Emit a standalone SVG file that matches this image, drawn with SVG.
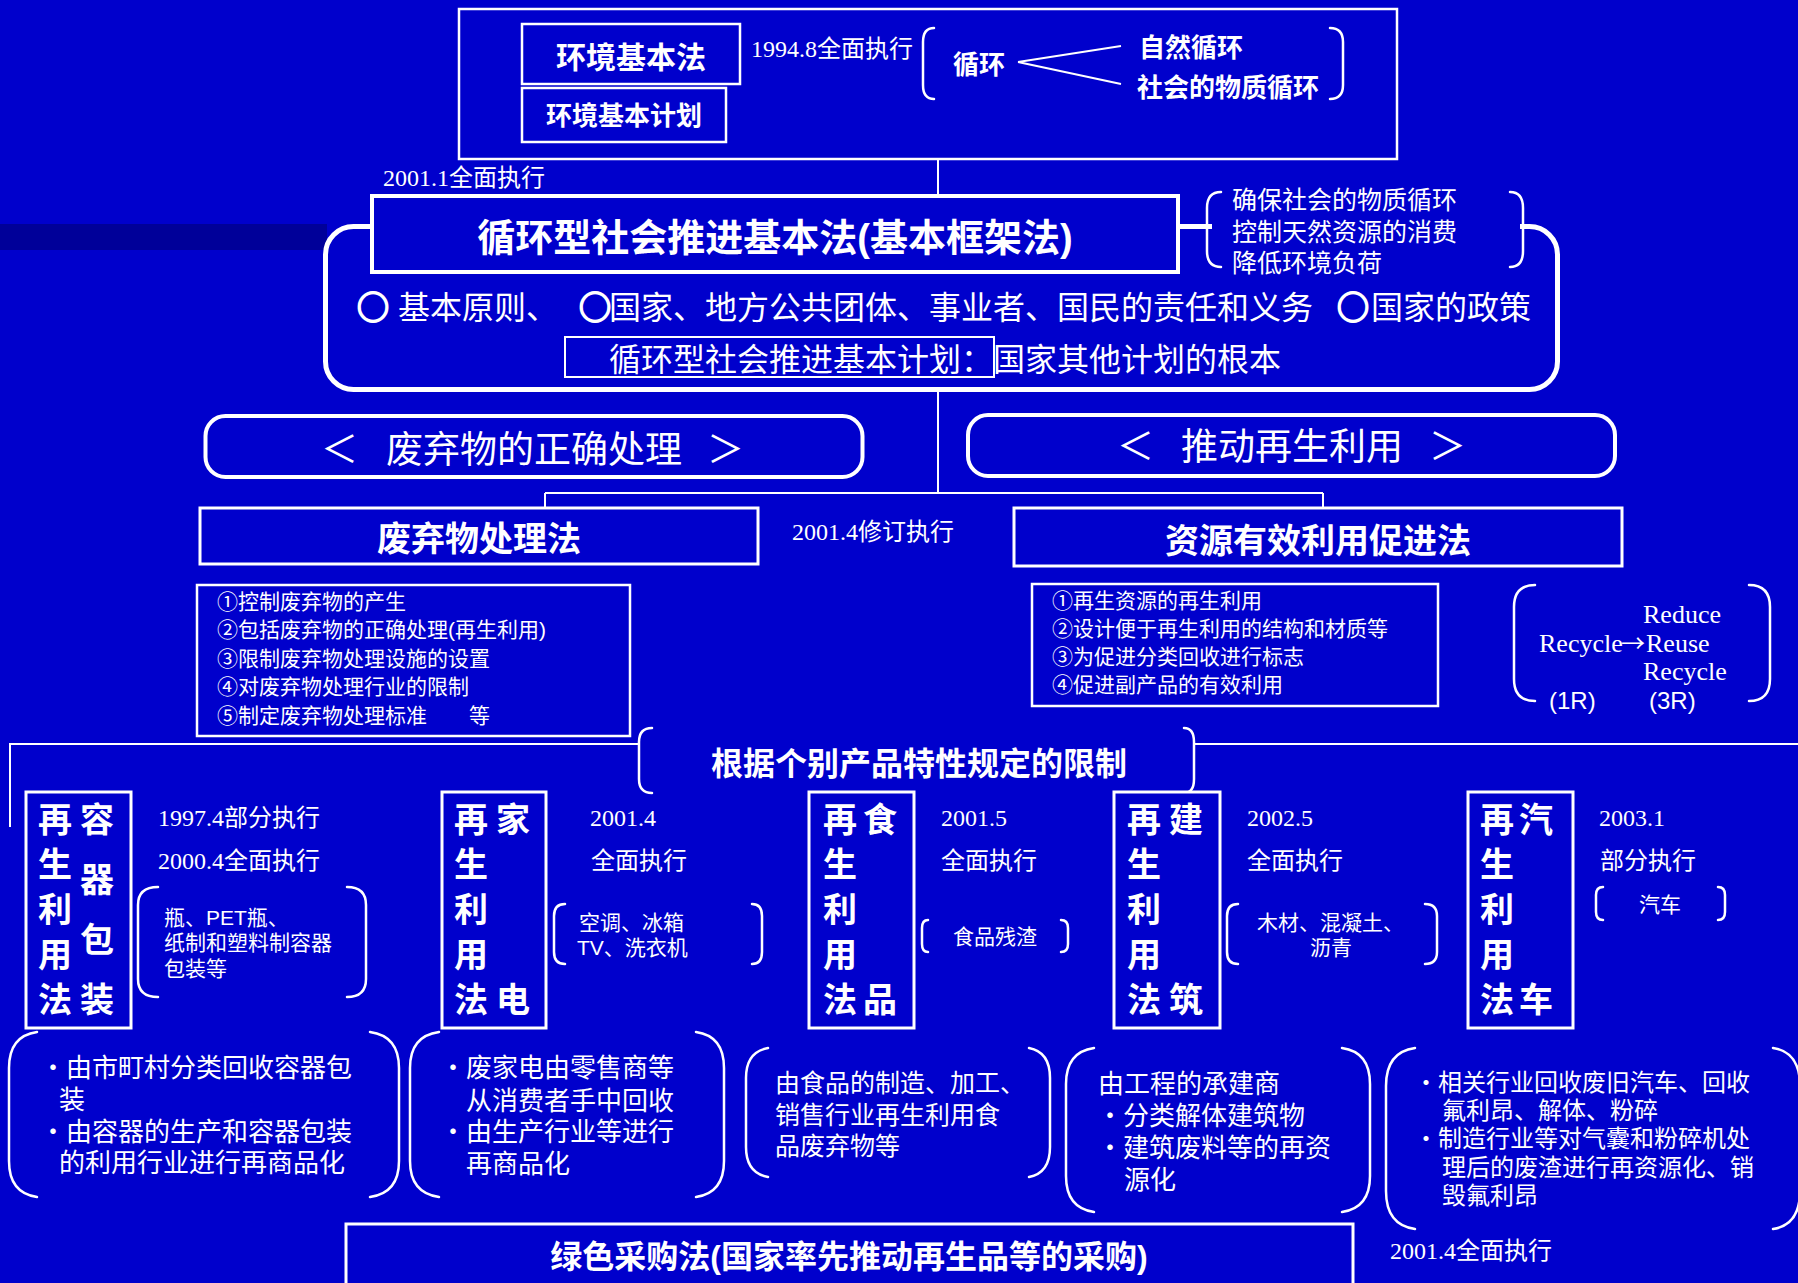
<svg xmlns="http://www.w3.org/2000/svg" width="1798" height="1283" viewBox="0 0 1798 1283">
<defs>
<style>
.t{fill:#fff;font-family:"Liberation Sans","Noto Sans CJK SC",sans-serif}
.s{fill:#fff;font-family:"Liberation Serif","Noto Sans CJK SC",serif}
.sa{fill:#fff;font-family:"Liberation Sans","Noto Sans CJK SC",sans-serif}
.b{font-weight:bold}
.box{fill:#0000CC;stroke:#fff}
.ln{fill:none;stroke:#fff;stroke-width:2}
.br{fill:none;stroke:#fff;stroke-width:2.5;stroke-linecap:round}
.circ{stroke:#fff;stroke-width:2;font-family:"Noto Sans CJK SC",sans-serif}
.arr{font-family:"Noto Sans CJK SC",sans-serif}
.m{text-anchor:middle}
</style>
</defs>
<rect x="0" y="0" width="1798" height="1283" fill="#0000CC"/>
<rect x="0" y="224" width="327" height="26" fill="#000099"/>

<g id="connectors">
<line class="ln" x1="938" y1="159" x2="938" y2="196"/>
<line class="ln" x1="938" y1="390" x2="938" y2="493"/>
<line class="ln" x1="545" y1="493" x2="1323" y2="493"/>
<line class="ln" x1="545" y1="493" x2="545" y2="508"/>
<line class="ln" x1="1323" y1="493" x2="1323" y2="508"/>
<line class="ln" x1="1018" y1="62" x2="1121" y2="46"/>
<line class="ln" x1="1018" y1="62" x2="1121" y2="84"/>
<polyline class="ln" points="10,827 10,744 639,744"/>
<line class="ln" x1="1194" y1="744" x2="1798" y2="744"/>
</g>

<g id="top-frame">
<rect x="459" y="9" width="938" height="150" class="box" stroke-width="2.5"/>
</g>
<g id="env-law">
<rect x="522" y="24" width="218" height="60" class="box" stroke-width="2.5"/>
<text x="631" y="68" class="t b m" font-size="30">环境基本法</text>
</g>
<g id="env-plan">
<rect x="522" y="88" width="204" height="54" class="box" stroke-width="2.5"/>
<text x="624" y="125" class="t b m" font-size="26">环境基本计划</text>
</g>
<text x="751" y="57" class="s" font-size="24">1994.8全面执行</text>
<g id="cycle">
<path class="br" d="M934,28 Q923,28 923,42 L923,85 Q923,99 934,99"/>
<path class="br" d="M1330,28 Q1343,28 1343,42 L1343,85 Q1343,99 1330,99"/>
<text x="953" y="74" class="t b" font-size="26">循环</text>
<text x="1139" y="57" class="t b" font-size="26">自然循环</text>
<text x="1137" y="97" class="t b" font-size="26">社会的物质循环</text>
<line class="ln" x1="1018" y1="62" x2="1121" y2="46"/>
<line class="ln" x1="1018" y1="62" x2="1121" y2="84"/>
</g>

<text x="383" y="186" class="s" font-size="24">2001.1全面执行</text>

<g id="basic-law-frame">
<rect x="325.5" y="226.5" width="1232" height="163" rx="28" fill="none" stroke="#fff" stroke-width="5"/>
<rect x="1212" y="190" width="308" height="90" fill="#0000CC"/>
</g>
<g id="basic-law">
<rect x="372" y="196" width="806" height="76" class="box" stroke-width="4"/>
<text x="775" y="251" class="t b m" font-size="38">循环型社会推进基本法(基本框架法)</text>
</g>
<g id="basic-law-goals">
<path class="br" d="M1221,192 Q1207,192 1207,208 L1207,251 Q1207,267 1221,267"/>
<path class="br" d="M1510,192 Q1523,192 1523,208 L1523,251 Q1523,267 1510,267"/>
<text class="t" font-size="25"><tspan x="1232" y="209">确保社会的物质循环</tspan><tspan x="1232" y="241">控制天然资源的消费</tspan><tspan x="1232" y="272">降低环境负荷</tspan></text>
</g>
<g id="basic-law-items">
<text y="319" class="t" font-size="32"><tspan x="357" class="circ">○</tspan><tspan x="398">基本原则、</tspan><tspan x="579" class="circ">○</tspan><tspan x="609">国家、地方公共团体、事业者、国民的责任和义务</tspan><tspan x="1337" class="circ">○</tspan><tspan x="1371">国家的政策</tspan></text>
</g>
<g id="basic-plan">
<rect x="565" y="337" width="429" height="40" fill="none" stroke="#fff" stroke-width="2"/>
<text x="609" y="371" class="t" font-size="32">循环型社会推进基本计划：国家其他计划的根本</text>
</g>

<g id="waste-proper">
<rect x="205.5" y="416" width="657" height="61" rx="20" class="box" stroke-width="4"/>
<text y="463" class="t" font-size="37"><tspan x="321">＜</tspan><tspan x="386">废弃物的正确处理</tspan><tspan x="707">＞</tspan></text>
</g>
<g id="recycle-promo">
<rect x="968" y="415" width="647" height="61" rx="20" class="box" stroke-width="4"/>
<text y="460" class="t" font-size="37"><tspan x="1117">＜</tspan><tspan x="1181">推动再生利用</tspan><tspan x="1429">＞</tspan></text>
</g>

<g id="waste-law">
<rect x="200" y="508" width="558" height="56" class="box" stroke-width="3"/>
<text x="479" y="551" class="t b m" font-size="34">废弃物处理法</text>
</g>
<text x="792" y="540" class="s" font-size="24">2001.4修订执行</text>
<g id="resource-law">
<rect x="1014" y="508" width="608" height="58" class="box" stroke-width="3"/>
<text x="1318" y="553" class="t b m" font-size="34">资源有效利用促进法</text>
</g>

<g id="waste-law-items">
<rect x="197" y="585" width="433" height="151" fill="none" stroke="#fff" stroke-width="2.5"/>
<text class="t" font-size="21"><tspan x="217" y="609">①控制废弃物的产生</tspan><tspan x="217" y="637">②包括废弃物的正确处理(再生利用)</tspan><tspan x="217" y="666">③限制废弃物处理设施的设置</tspan><tspan x="217" y="694">④对废弃物处理行业的限制</tspan><tspan x="217" y="723">⑤制定废弃物处理标准　　等</tspan></text>
</g>
<g id="resource-law-items">
<rect x="1032" y="584" width="406" height="122" fill="none" stroke="#fff" stroke-width="2.5"/>
<text class="t" font-size="21"><tspan x="1052" y="608">①再生资源的再生利用</tspan><tspan x="1052" y="636">②设计便于再生利用的结构和材质等</tspan><tspan x="1052" y="664">③为促进分类回收进行标志</tspan><tspan x="1052" y="692">④促进副产品的有效利用</tspan></text>
</g>
<g id="three-r">
<path class="br" d="M1535,585 Q1514,585 1514,607 L1514,679 Q1514,701 1535,701"/>
<path class="br" d="M1749,585 Q1770,585 1770,607 L1770,679 Q1770,701 1749,701"/>
<text x="1643" y="623" class="s" font-size="26">Reduce</text>
<text y="652" class="s" font-size="26"><tspan x="1539">Recycle</tspan><tspan x="1621" class="arr" font-size="24">→</tspan><tspan x="1646">Reuse</tspan></text>
<text x="1643" y="680" class="s" font-size="26">Recycle</text>
<text x="1549" y="709" class="sa" font-size="24">(1R)</text>
<text x="1649" y="709" class="sa" font-size="24">(3R)</text>
</g>

<g id="individual-header">
<path class="br" d="M652,728 Q639,728 639,742 L639,779 Q639,793 652,793"/>
<path class="br" d="M1184,728 Q1194,728 1194,742 L1194,779 Q1194,793 1184,793"/>
<text x="711" y="775" class="t b" font-size="32">根据个别产品特性规定的限制</text>
</g>

<g id="container-law">
<rect x="26" y="792" width="105" height="236" class="box" stroke-width="3"/>
<text class="t b" font-size="34"><tspan x="38" y="832">再</tspan><tspan x="38" y="877">生</tspan><tspan x="38" y="922">利</tspan><tspan x="38" y="967">用</tspan><tspan x="38" y="1012">法</tspan><tspan x="80" y="832">容</tspan><tspan x="80" y="892">器</tspan><tspan x="80" y="952">包</tspan><tspan x="80" y="1012">装</tspan></text>
<text class="s" font-size="24"><tspan x="158" y="826">1997.4部分执行</tspan><tspan x="158" y="869">2000.4全面执行</tspan></text>
<path class="br" d="M158,887 Q138,887 138,905 L138,979 Q138,997 158,997"/>
<path class="br" d="M347,887 Q366,887 366,905 L366,979 Q366,997 347,997"/>
<text class="t" font-size="21"><tspan x="164" y="925">瓶、PET瓶、</tspan><tspan x="164" y="950">纸制和塑料制容器</tspan><tspan x="164" y="976">包装等</tspan></text>
</g>
<g id="appliance-law">
<rect x="442" y="792" width="104" height="236" class="box" stroke-width="3"/>
<text class="t b" font-size="34"><tspan x="454" y="832">再</tspan><tspan x="454" y="877">生</tspan><tspan x="454" y="922">利</tspan><tspan x="454" y="967">用</tspan><tspan x="454" y="1012">法</tspan><tspan x="496" y="832">家</tspan><tspan x="496" y="1012">电</tspan></text>
<text class="s" font-size="24"><tspan x="590" y="826">2001.4</tspan><tspan x="591" y="869">全面执行</tspan></text>
<path class="br" d="M565,904 Q554,904 554,916 L554,952 Q554,964 565,964"/>
<path class="br" d="M752,904 Q762,904 762,916 L762,952 Q762,964 752,964"/>
<text class="t" font-size="21"><tspan x="579" y="930">空调、冰箱</tspan><tspan x="577" y="955">TV、洗衣机</tspan></text>
</g>
<g id="food-law">
<rect x="809" y="792" width="105" height="236" class="box" stroke-width="3"/>
<text class="t b" font-size="34"><tspan x="823" y="832">再</tspan><tspan x="823" y="877">生</tspan><tspan x="823" y="922">利</tspan><tspan x="823" y="967">用</tspan><tspan x="823" y="1012">法</tspan><tspan x="863" y="832">食</tspan><tspan x="863" y="1012">品</tspan></text>
<text class="s" font-size="24"><tspan x="941" y="826">2001.5</tspan><tspan x="941" y="869">全面执行</tspan></text>
<path class="br" d="M928,920 Q922,920 922,928 L922,944 Q922,952 928,952"/>
<path class="br" d="M1061,920 Q1068,920 1068,928 L1068,944 Q1068,952 1061,952"/>
<text x="953" y="944" class="t" font-size="21">食品残渣</text>
</g>
<g id="construction-law">
<rect x="1114" y="792" width="106" height="236" class="box" stroke-width="3"/>
<text class="t b" font-size="34"><tspan x="1127" y="832">再</tspan><tspan x="1127" y="877">生</tspan><tspan x="1127" y="922">利</tspan><tspan x="1127" y="967">用</tspan><tspan x="1127" y="1012">法</tspan><tspan x="1169" y="832">建</tspan><tspan x="1169" y="1012">筑</tspan></text>
<text class="s" font-size="24"><tspan x="1247" y="826">2002.5</tspan><tspan x="1247" y="869">全面执行</tspan></text>
<path class="br" d="M1238,904 Q1227,904 1227,916 L1227,952 Q1227,964 1238,964"/>
<path class="br" d="M1425,904 Q1437,904 1437,916 L1437,952 Q1437,964 1425,964"/>
<text class="t" font-size="21"><tspan x="1257" y="930">木材、混凝土、</tspan><tspan x="1310" y="955">沥青</tspan></text>
</g>
<g id="auto-law">
<rect x="1468" y="792" width="105" height="236" class="box" stroke-width="3"/>
<text class="t b" font-size="34"><tspan x="1480" y="832">再</tspan><tspan x="1480" y="877">生</tspan><tspan x="1480" y="922">利</tspan><tspan x="1480" y="967">用</tspan><tspan x="1480" y="1012">法</tspan><tspan x="1519" y="832">汽</tspan><tspan x="1519" y="1012">车</tspan></text>
<text class="s" font-size="24"><tspan x="1599" y="826">2003.1</tspan><tspan x="1600" y="869">部分执行</tspan></text>
<path class="br" d="M1603,887 Q1596,887 1596,895 L1596,912 Q1596,920 1603,920"/>
<path class="br" d="M1718,887 Q1725,887 1725,895 L1725,912 Q1725,920 1718,920"/>
<text x="1639" y="912" class="t" font-size="21">汽车</text>
</g>

<g id="container-desc">
<path class="br" d="M37,1032 Q9,1036 9,1068 L9,1161 Q9,1193 37,1197"/>
<path class="br" d="M370,1032 Q399,1036 399,1068 L399,1161 Q399,1193 370,1197"/>
<text class="t" font-size="26"><tspan x="40" y="1077">・由市町村分类回收容器包</tspan><tspan x="59" y="1109">装</tspan><tspan x="40" y="1141">・由容器的生产和容器包装</tspan><tspan x="59" y="1172">的利用行业进行再商品化</tspan></text>
</g>
<g id="appliance-desc">
<path class="br" d="M439,1032 Q410,1036 410,1068 L410,1161 Q410,1193 439,1197"/>
<path class="br" d="M696,1032 Q724,1036 724,1068 L724,1161 Q724,1193 696,1197"/>
<text class="t" font-size="26"><tspan x="440" y="1077">・废家电由零售商等</tspan><tspan x="466" y="1110">从消费者手中回收</tspan><tspan x="440" y="1141">・由生产行业等进行</tspan><tspan x="466" y="1173">再商品化</tspan></text>
</g>
<g id="food-desc">
<path class="br" d="M768,1048 Q746,1052 746,1078 L746,1147 Q746,1173 768,1177"/>
<path class="br" d="M1029,1048 Q1050,1052 1050,1078 L1050,1147 Q1050,1173 1029,1177"/>
<text class="t" font-size="25"><tspan x="775" y="1092">由食品的制造、加工、</tspan><tspan x="775" y="1124">销售行业再生利用食</tspan><tspan x="775" y="1155">品废弃物等</tspan></text>
</g>
<g id="construction-desc">
<path class="br" d="M1094,1048 Q1066,1052 1066,1084 L1066,1176 Q1066,1208 1094,1212"/>
<path class="br" d="M1342,1048 Q1370,1052 1370,1084 L1370,1176 Q1370,1208 1342,1212"/>
<text class="t" font-size="26"><tspan x="1098" y="1093">由工程的承建商</tspan><tspan x="1097" y="1125">・分类解体建筑物</tspan><tspan x="1097" y="1157">・建筑废料等的再资</tspan><tspan x="1124" y="1189">源化</tspan></text>
</g>
<g id="auto-desc">
<path class="br" d="M1415,1048 Q1386,1052 1386,1086 L1386,1191 Q1386,1225 1415,1229"/>
<path class="br" d="M1773,1048 Q1800,1052 1800,1086 L1800,1191 Q1800,1225 1773,1229"/>
<text class="t" font-size="24"><tspan x="1414" y="1091">・相关行业回收废旧汽车、回收</tspan><tspan x="1442" y="1119">氟利昂、解体、粉碎</tspan><tspan x="1414" y="1147">・制造行业等对气囊和粉碎机处</tspan><tspan x="1442" y="1176">理后的废渣进行再资源化、销</tspan><tspan x="1442" y="1204">毁氟利昂</tspan></text>
</g>
<text x="1390" y="1259" class="s" font-size="24">2001.4全面执行</text>

<g id="green-procurement">
<rect x="346" y="1224" width="1007" height="75" class="box" stroke-width="3"/>
<text x="849" y="1268" class="t b m" font-size="32">绿色采购法(国家率先推动再生品等的采购)</text>
</g>
</svg>
